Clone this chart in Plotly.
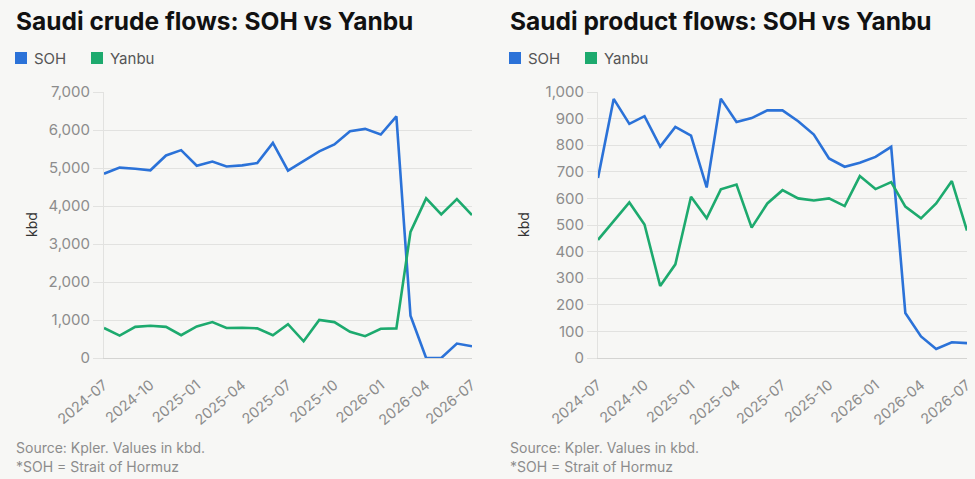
import plotly.graph_objects as go

# ---------------- data ----------------
months = ["2024-07-01", "2024-08-01", "2024-09-01", "2024-10-01", "2024-11-01", "2024-12-01",
          "2025-01-01", "2025-02-01", "2025-03-01", "2025-04-01", "2025-05-01", "2025-06-01",
          "2025-07-01", "2025-08-01", "2025-09-01", "2025-10-01", "2025-11-01", "2025-12-01",
          "2026-01-01", "2026-02-01", "2026-03-01", "2026-04-01", "2026-05-01", "2026-06-01",
          "2026-07-01"]

crude_soh = [4850, 5010, 4980, 4940, 5330, 5470, 5060, 5170, 5040, 5070, 5130, 5660,
             4930, 5180, 5440, 5620, 5970, 6030, 5880, 6360, 1110, 0, 0, 380, 310]
crude_yanbu = [790, 590, 820, 850, 820, 600, 830, 945, 790, 795, 780, 600,
               890, 440, 1000, 945, 690, 575, 770, 780, 3320, 4200, 3780, 4180, 3760]

product_soh = [677, 974, 880, 909, 795, 869, 836, 641, 975, 887, 902, 931,
               931, 890, 840, 750, 719, 734, 756, 794, 169, 81, 34, 59, 56]
product_yanbu = [444, 515, 585, 502, 271, 352, 606, 525, 634, 652, 490, 581,
                 631, 600, 592, 600, 571, 684, 635, 661, 569, 525, 581, 665, 479]

series_names = ["SOH", "Yanbu"]
series_colors = ["#2B72D8", "#1DAA6E"]

panel_titles = ["Saudi crude flows: SOH vs Yanbu", "Saudi product flows: SOH vs Yanbu"]
y_ranges = [[0, 7000], [0, 1000]]
y_dticks = [1000, 100]
footer_lines = ["Source: Kpler. Values in kbd.", "*SOH = Strait of Hormuz"]

# ---------------- layout helpers ----------------
W, H = 975, 479
BG = "#F7F7F5"
GRID = "#E2E2E0"
FONT = "Inter"


def px(x):
    return x / W


def py(y):
    return 1 - y / H


fig = go.Figure()

panels = [
    (crude_soh, crude_yanbu, "x", "y"),
    (product_soh, product_yanbu, "x2", "y2"),
]
for soh, yan, xa, ya in panels:
    for vals, name, col in zip([soh, yan], series_names, series_colors):
        fig.add_trace(go.Scatter(
            x=months, y=vals, name=name, mode="lines",
            line=dict(color=col, width=2.6),
            xaxis=xa, yaxis=ya, showlegend=False,
            hovertemplate="%{x|%Y-%m}: %{y:,}<extra>" + name + "</extra>",
        ))

x_domains = [[px(104), px(472)], [px(598), px(967)]]
y_domain = [py(358), py(92)]

axis_common_x = dict(
    type="date", range=[months[0], months[-1]], tick0=months[0], dtick="M3",
    tickformat="%Y-%m", tickangle=-40, showgrid=False, showline=True,
    linecolor="#D4D4D2", linewidth=1, ticks="", zeroline=False, automargin=False,
    ticklabelstandoff=12,
    tickfont=dict(family=FONT, size=14.5, color="#8C8C8C"),
)
axis_common_y = dict(
    domain=y_domain, gridcolor=GRID, gridwidth=1, showline=True, linecolor=GRID,
    ticks="outside", ticklen=10, tickcolor=GRID, tickformat=",", zeroline=False,
    automargin=False,
    tickfont=dict(family=FONT, size=15, color="#8C8C8C"),
)

fig.update_layout(
    width=W, height=H, margin=dict(l=0, r=0, t=0, b=0, autoexpand=False),
    paper_bgcolor=BG, plot_bgcolor=BG,
    font=dict(family=FONT),
    xaxis=dict(domain=x_domains[0], anchor="y", **axis_common_x),
    xaxis2=dict(domain=x_domains[1], anchor="y2", **axis_common_x),
    yaxis=dict(anchor="x", range=y_ranges[0], dtick=y_dticks[0], **axis_common_y),
    yaxis2=dict(anchor="x2", range=y_ranges[1], dtick=y_dticks[1], **axis_common_y),
)

annotations = []
shapes = []
panel_left = [15, 509]
kbd_x = [31, 523]
for i, left in enumerate(panel_left):
    # title
    annotations.append(dict(
        x=px(left - 1), y=py(21), xref="paper", yref="paper", xanchor="left", yanchor="middle",
        text="<b>" + panel_titles[i] + "</b>", showarrow=False,
        font=dict(family=FONT, size=24.5, color="#111111"),
    ))
    # legend
    sq_x = [left, left + 76]
    for name, col, sx in zip(series_names, series_colors, sq_x):
        shapes.append(dict(
            type="rect", xref="paper", yref="paper",
            x0=px(sx), x1=px(sx + 12), y0=py(64), y1=py(52),
            fillcolor=col, line=dict(width=0),
        ))
        annotations.append(dict(
            x=px(sx + 17), y=py(58), xref="paper", yref="paper", xanchor="left", yanchor="middle",
            text=name, showarrow=False, font=dict(family=FONT, size=15, color="#555555"),
        ))
    # y axis title
    annotations.append(dict(
        x=px(kbd_x[i]), y=py(225), xref="paper", yref="paper", xanchor="center", yanchor="middle",
        text="kbd", textangle=-90, showarrow=False, font=dict(family=FONT, size=14, color="#333333"),
    ))
    # footer
    for j, line in enumerate(footer_lines):
        annotations.append(dict(
            x=px(left - 1), y=py(447 + 19 * j), xref="paper", yref="paper",
            xanchor="left", yanchor="middle", text=line, showarrow=False,
            font=dict(family=FONT, size=14, color="#8C8C8C"),
        ))

fig.update_layout(annotations=annotations, shapes=shapes)

fig.write_html("out.html")
